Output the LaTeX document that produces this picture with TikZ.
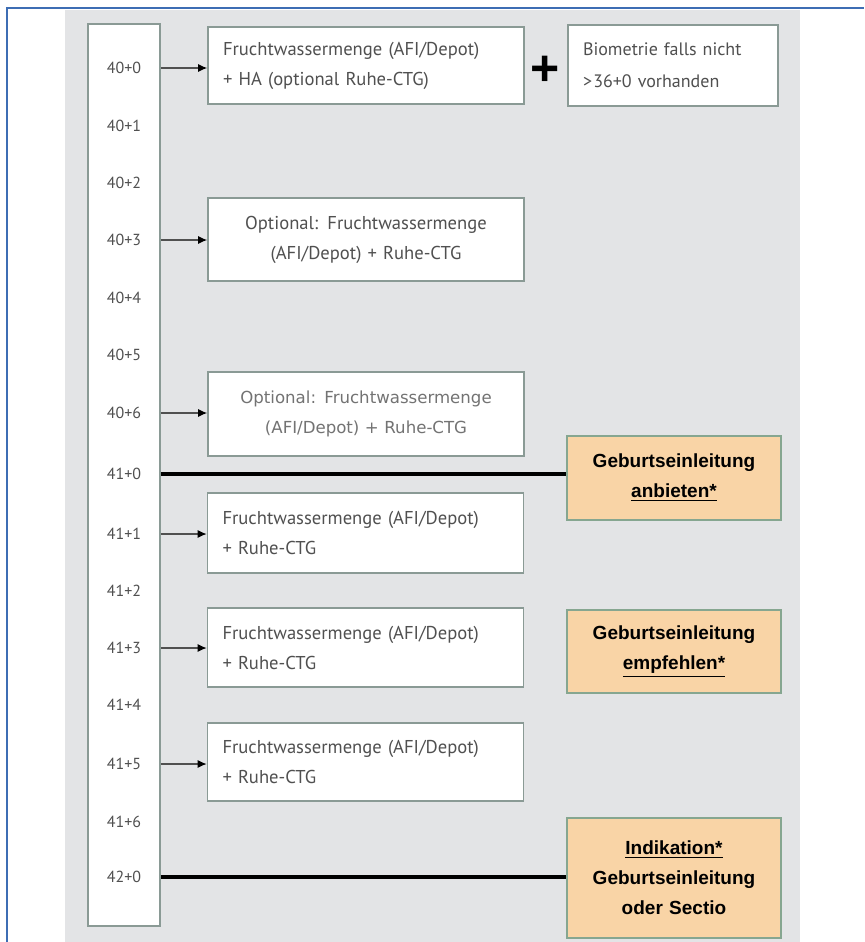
\documentclass[tikz,border=0pt]{standalone}
\usepackage{fontspec}
\setmainfont{PT Sans}
\newfontfamily\boldsans{Liberation Sans}
\newfontfamily\widesans{DejaVu Sans}
\usetikzlibrary{positioning, arrows.meta}
\definecolor{panelgray}{HTML}{E3E4E6}
\definecolor{frameblue}{HTML}{3D6DB4}
\definecolor{boxline}{HTML}{8A9A95}
\definecolor{peach}{HTML}{F9D4A6}
\definecolor{peachline}{HTML}{86A690}
\definecolor{txtgray}{HTML}{505050}

\begin{document}
\begin{tikzpicture}[
    x=0.5pt, y=-0.5pt,
    every node/.style={inner sep=0pt},
    tick/.style={font=\fontsize{8}{10}\selectfont, text=txtgray},
    wbox/.style={rectangle, draw=boxline, line width=0.8pt, fill=white, minimum width=158pt, text width=143pt, align=left, text=txtgray, font=\fontsize{9.3}{15}\selectfont},
    obox/.style={rectangle, draw=peachline, line width=0.8pt, fill=peach, minimum width=107pt, text width=100pt, align=center, font=\boldsans\bfseries\fontsize{9.5}{15}\selectfont},
    arrow/.style={-{Latex[length=4.5pt, width=4pt, color=black]}, draw=txtgray, line width=0.6pt},
    bar/.style={draw=black, line width=1.6pt}
]
\useasboundingbox (0,0) rectangle (864,942);
\fill[panelgray] (65,10) rectangle (800,942);
\draw[frameblue, line width=1pt] (7,942) -- (7,8) -- (864,8);

% timeline
\node[rectangle, draw=boxline, line width=0.8pt, fill=white, minimum width=36pt, minimum height=451pt] (line) at (124,475) {};
\node[tick] (d400) at (124,68) {40+0};
\node[tick] (d401) at (124,126) {40+1};
\node[tick] (d402) at (124,183) {40+2};
\node[tick] (d403) at (124,240) {40+3};
\node[tick] (d404) at (124,298) {40+4};
\node[tick] (d405) at (124,355) {40+5};
\node[tick] (d406) at (124,413) {40+6};
\node[tick] (d410) at (124,474) {41+0};
\node[tick] (d411) at (124,534) {41+1};
\node[tick] (d412) at (124,591) {41+2};
\node[tick] (d413) at (124,648) {41+3};
\node[tick] (d414) at (124,705) {41+4};
\node[tick] (d415) at (124,764) {41+5};
\node[tick] (d416) at (124,822) {41+6};
\node[tick] (d420) at (124,877) {42+0};

% checks
\node[wbox, minimum height=38.5pt] (fw400) at (366,65.5) {Fruchtwassermenge (AFI/Depot)\\+ HA (optional Ruhe-CTG)};
\node[font=\boldsans\bfseries\fontsize{25}{25}\selectfont] (plus) at (545,71) {+};
\node[wbox, minimum width=105pt, text width=90pt, minimum height=40.5pt, font=\fontsize{9}{16}\selectfont] (bio) at (673,65.5) {Biometrie falls nicht\\>\kern0.6pt 36+0 vorhanden};
\node[wbox, align=center, minimum height=41.5pt] (opt403) at (366,239.5) {Optional:\enspace Fruchtwassermenge\\(AFI/Depot) + Ruhe-CTG};
\node[wbox, align=center, minimum height=42pt, text=txtgray!80, font=\widesans\fontsize{8.3}{15}\selectfont] (opt406) at (366,414) {Optional: Fruchtwassermenge\\(AFI/Depot) + Ruhe-CTG};
\node[wbox, minimum height=40pt] (fw411) at (365.5,533) {Fruchtwassermenge (AFI/Depot)\\+ Ruhe-CTG};
\node[wbox, minimum height=39.5pt] (fw413) at (365.5,647.5) {Fruchtwassermenge (AFI/Depot)\\+ Ruhe-CTG};
\node[wbox, minimum height=39pt] (fw415) at (365.5,762) {Fruchtwassermenge (AFI/Depot)\\+ Ruhe-CTG};

% induction
\node[obox, minimum height=42pt] (offer) at (674,478) {Geburtseinleitung\\\underline{anbieten*}};
\node[obox, minimum height=41.5pt] (advise) at (674,651.5) {Geburtseinleitung\\\underline{empfehlen*}};
\node[obox, minimum height=60pt] (indic) at (674,878) {\underline{Indikation*}\\Geburtseinleitung\\oder Sectio};

\draw[arrow] (d400 -| line.east) -- (d400 -| fw400.west);
\draw[arrow] (d403 -| line.east) -- (d403 -| opt403.west);
\draw[arrow] (d406 -| line.east) -- (d406 -| opt406.west);
\draw[arrow] (d411 -| line.east) -- (d411 -| fw411.west);
\draw[arrow] (d413 -| line.east) -- (d413 -| fw413.west);
\draw[arrow] (d415 -| line.east) -- (d415 -| fw415.west);
\draw[bar] (d410 -| line.east) -- (d410 -| offer.west);
\draw[bar] (d420 -| line.east) -- (d420 -| indic.west);

\end{tikzpicture}
\end{document}
